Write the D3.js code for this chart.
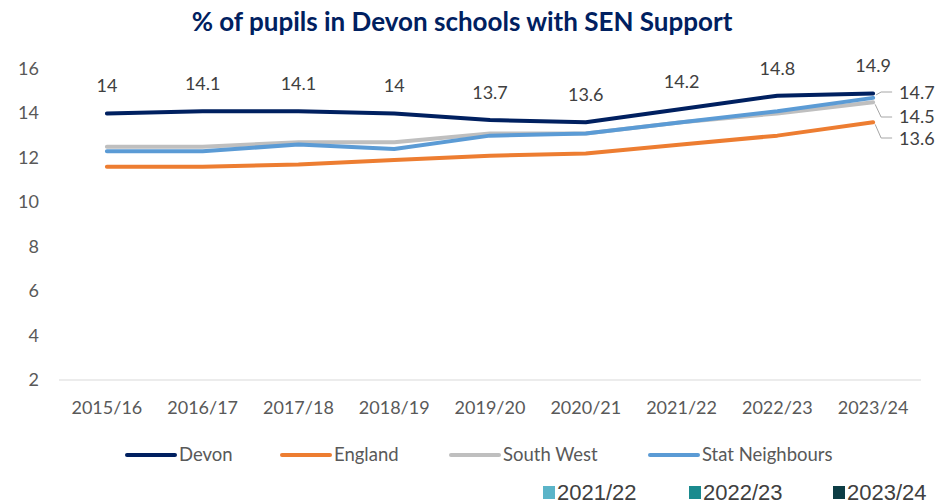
<!DOCTYPE html>
<html><head><meta charset="utf-8">
<script src="https://cdn.jsdelivr.net/npm/d3@7"></script>
<style>body{margin:0;background:#fff}svg{display:block}</style>
</head><body>
<svg id="c" width="939" height="504"></svg>
<script>
const categories = ["2015/16","2016/17","2017/18","2018/19","2019/20","2020/21","2021/22","2022/23","2023/24"];
const devon = [14,14.1,14.1,14,13.7,13.6,14.2,14.8,14.9];
const england = [11.6,11.6,11.7,11.9,12.1,12.2,12.6,13.0,13.6];
const southWest = [12.5,12.5,12.7,12.7,13.1,13.1,13.6,14.0,14.5];
const statNeighbours = [12.3,12.3,12.6,12.4,13.0,13.1,13.6,14.1,14.7];
const yTicks = [2,4,6,8,10,12,14,16];
const seriesNames = ["Devon","England","South West","Stat Neighbours"];
const seriesColors = ["#002060","#ED7D31","#BFBFBF","#5B9BD5"];
const extraLegend = ["2021/22","2022/23","2023/24"];
const extraColors = ["#5BB4C8","#1A8A8E","#0D3D45"];

const svg = d3.select("#c");
const font = "Lato, 'Open Sans', sans-serif";
const x = d3.scaleBand().domain(categories).range([59,921]);
const y = d3.scaleLinear().domain([2,16]).range([380,69]);
const cx = c => x(c) + x.bandwidth()/2;

svg.append("text").attr("x",462).attr("y",31).attr("text-anchor","middle")
  .attr("font-family",font).attr("font-weight","bold").attr("font-size",26)
  .attr("fill","#002060").text("% of pupils in Devon schools with SEN Support");

// y axis labels
svg.append("g").selectAll("text").data(yTicks).join("text")
  .attr("x",39).attr("y",d=>y(d)+6).attr("text-anchor","end")
  .attr("font-family",font).attr("font-size",18).attr("fill","#595959").text(d=>d);

// x axis
svg.append("line").attr("x1",59).attr("x2",921).attr("y1",y(2)).attr("y2",y(2))
  .attr("stroke","#D9D9D9").attr("stroke-width",1);
svg.append("g").selectAll("text").data(categories).join("text")
  .attr("x",d=>cx(d)).attr("y",414).attr("text-anchor","middle")
  .attr("font-family",font).attr("font-size",18).attr("fill","#595959").text(d=>d);

const allSeries = [devon, england, southWest, statNeighbours];
const line = d3.line().x((d,i)=>cx(categories[i])).y(d=>y(d));
allSeries.forEach((s,k)=>{
  svg.append("path").attr("d",line(s)).attr("fill","none")
    .attr("stroke",seriesColors[k]).attr("stroke-width",4)
    .attr("stroke-linejoin","round").attr("stroke-linecap","round");
});

// Devon labels
svg.append("g").selectAll("text").data(devon).join("text")
  .attr("x",(d,i)=>cx(categories[i])).attr("y",d=>y(d)-21).attr("text-anchor","middle")
  .attr("font-family",font).attr("font-size",18).attr("fill","#404040").text(d=>d);

// right-side labels with leaders
const last = categories.length-1;
const lx = cx(categories[last]);
const rightLabels = [
  {v: statNeighbours[last], ty: 93, bend: [[lx+3,y(statNeighbours[last])-3],[lx+8,92]]},
  {v: southWest[last], ty: 117, bend: [[lx+2,y(southWest[last])+2],[lx+8,117]]},
  {v: england[last], ty: 139, bend: [[lx+2,y(england[last])+2],[lx+8,138]]}
];
rightLabels.forEach(r=>{
  const pts = [r.bend[0], r.bend[1], [lx+19, r.bend[1][1]]];
  svg.append("path").attr("d",d3.line()(pts)).attr("fill","none")
    .attr("stroke","#A6A6A6").attr("stroke-width",1);
  svg.append("text").attr("x",lx+26).attr("y",r.ty+6)
    .attr("font-family",font).attr("font-size",18).attr("fill","#404040").text(r.v);
});

// legend
const legX = [127,282,451,650];
seriesNames.forEach((n,k)=>{
  svg.append("line").attr("x1",legX[k]).attr("x2",legX[k]+48).attr("y1",455).attr("y2",455)
    .attr("stroke",seriesColors[k]).attr("stroke-width",4).attr("stroke-linecap","round");
  svg.append("text").attr("x",legX[k]+52).attr("y",461)
    .attr("font-family",font).attr("font-size",18.5).attr("fill","#595959").text(n);
});

// second legend
const ex = [543,689,833];
extraLegend.forEach((n,k)=>{
  svg.append("rect").attr("x",ex[k]).attr("y",486).attr("width",12).attr("height",13)
    .attr("fill",extraColors[k]);
  svg.append("text").attr("x",ex[k]+14).attr("y",500)
    .attr("font-family","'Liberation Sans Narrow','Liberation Sans',sans-serif").attr("font-size",22)
    .attr("fill","#404040").text(n);
});
</script>
</body></html>
